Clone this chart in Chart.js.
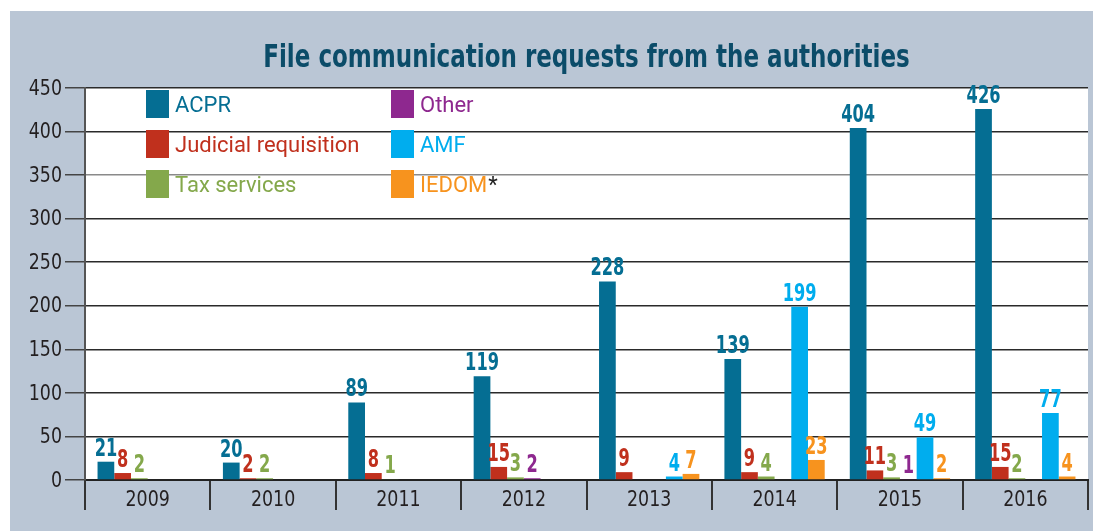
<!DOCTYPE html>
<html>
<head>
<meta charset="utf-8">
<script src="https://cdn.jsdelivr.net/npm/chart.js@4"></script>
<style>
    html, body { margin: 0; padding: 0; background: #fff; }
    #wrap { position: absolute; left: 10px; top: 11px; width: 1083px; height: 520px; background: #bac6d5; }
</style>
</head>
<body>
<div id="wrap"><canvas id="chart" width="1083" height="520"></canvas></div>
<script>
// データ
const years = ['2009', '2010', '2011', '2012', '2013', '2014', '2015', '2016'];
const acpr = [21, 20, 89, 119, 228, 139, 404, 426];
const judicial = [8, 2, 8, 15, 9, 9, 11, 15];
const tax = [2, 2, 1, 3, 0, 4, 3, 2];
const other = [0, 0, 0, 2, 0, 0, 1, 0];
const amf = [0, 0, 0, 0, 4, 199, 49, 77];
const iedom = [0, 0, 0, 0, 7, 23, 2, 4];
const seriesNames = ['ACPR', 'Judicial requisition', 'Tax services', 'Other', 'AMF', 'IEDOM'];
const seriesColors = ['#056e93', '#c0301d', '#84a84b', '#8e288f', '#00adee', '#f7931e'];
const yTicks = [0, 50, 100, 150, 200, 250, 300, 350, 400, 450];

const COND = "'DejaVu Sans Condensed', 'DejaVu Sans', sans-serif";

// 横に詰めた文字を描く
function narrowText(ctx, text, x, y, font, sx, align, baseline) {
    ctx.save();
    ctx.font = font;
    ctx.textAlign = align;
    ctx.textBaseline = baseline;
    ctx.translate(x, y);
    ctx.scale(sx, 1);
    ctx.fillText(text, 0, 0);
    ctx.restore();
}

// 背景・タイトル・目盛りラベル
const backdrop = {
    id: 'backdrop',
    beforeDraw(chart) {
        const { ctx, chartArea: a } = chart;
        ctx.save();
        ctx.fillStyle = '#ffffff';
        ctx.fillRect(a.left, a.top, a.right - a.left, a.bottom - a.top);
        ctx.fillStyle = '#0b4c69';
        narrowText(ctx, 'File communication requests from the authorities', (a.left + a.right) / 2, 56,
            'bold 32px ' + COND, 0.8, 'center', 'alphabetic');
        ctx.restore();
    },
    afterDraw(chart) {
        const { ctx, chartArea: a, scales } = chart;
        ctx.save();
        ctx.fillStyle = '#231f20';
        yTicks.forEach(v => {
            narrowText(ctx, String(v), a.left - 23, scales.y.getPixelForValue(v) + 1,
                '22px ' + COND, 0.88, 'right', 'middle');
        });
        years.forEach((yr, i) => {
            narrowText(ctx, yr, scales.x.getPixelForValue(i), a.bottom + 20,
                '22px ' + COND, 0.88, 'center', 'middle');
        });
        ctx.restore();
    }
};

// 値ラベルと凡例
const labelsAndLegend = {
    id: 'labelsAndLegend',
    afterDatasetsDraw(chart) {
        const ctx = chart.ctx;
        ctx.save();
        chart.data.datasets.forEach((ds, i) => {
            const meta = chart.getDatasetMeta(i);
            meta.data.forEach((bar, j) => {
                const v = ds.data[j];
                if (!v) return;
                ctx.fillStyle = ds.backgroundColor;
                narrowText(ctx, String(v), bar.x, bar.y - 6, 'bold 24px ' + COND, 0.75, 'center', 'alphabetic');
            });
        });

        // 凡例 (2列)
        const cols = [65, 310];
        ctx.font = '22px Roboto';
        ctx.textAlign = 'left';
        ctx.textBaseline = 'alphabetic';
        seriesNames.forEach((name, i) => {
            const col = Math.floor(i / 3);
            const row = i % 3;
            const x = cols[col];
            const y = 79 + row * 40;
            ctx.fillStyle = seriesColors[i];
            ctx.fillRect(x + 71, y, 23, 28);
            ctx.fillText(name, x + 100, y + 22);
            if (name === 'IEDOM') {
                const w = ctx.measureText(name).width;
                ctx.fillStyle = '#222';
                ctx.fillText('*', x + 101 + w, y + 22);
            }
        });
        ctx.restore();
    }
};

const allSeries = [acpr, judicial, tax, other, amf, iedom];

new Chart(document.getElementById('chart'), {
    type: 'bar',
    data: {
        labels: years,
        datasets: allSeries.map((d, i) => ({
            label: seriesNames[i],
            data: d,
            backgroundColor: seriesColors[i],
            borderWidth: 0,
            categoryPercentage: 0.8,
            barPercentage: 1.0
        }))
    },
    options: {
        responsive: false,
        animation: false,
        layout: { padding: { top: 77, right: 5, left: 0, bottom: 0 } },
        plugins: {
            legend: { display: false },
            title: { display: false },
            tooltip: { enabled: false }
        },
        scales: {
            x: {
                afterFit(scale) { scale.height = 51; },
                grid: {
                    offset: true,
                    drawOnChartArea: false,
                    tickLength: 30,
                    color: '#333',
                    lineWidth: 2
                },
                border: { color: '#222', width: 2 },
                ticks: { color: 'rgba(0,0,0,0)', font: { size: 22 } }
            },
            y: {
                min: 0,
                max: 450,
                afterFit(scale) { scale.width = 75; },
                afterBuildTicks(scale) { scale.ticks = yTicks.map(v => ({ value: v })); },
                grid: {
                    tickLength: 20,
                    lineWidth: 1.5,
                    color: c => (c.tick && c.tick.value === 350) ? '#8a8a8a' : '#2a2a2a',
                    tickColor: '#444'
                },
                border: { color: '#555', width: 2 },
                ticks: { color: 'rgba(0,0,0,0)', font: { size: 22 } }
            }
        }
    },
    plugins: [backdrop, labelsAndLegend]
});
</script>
</body>
</html>
